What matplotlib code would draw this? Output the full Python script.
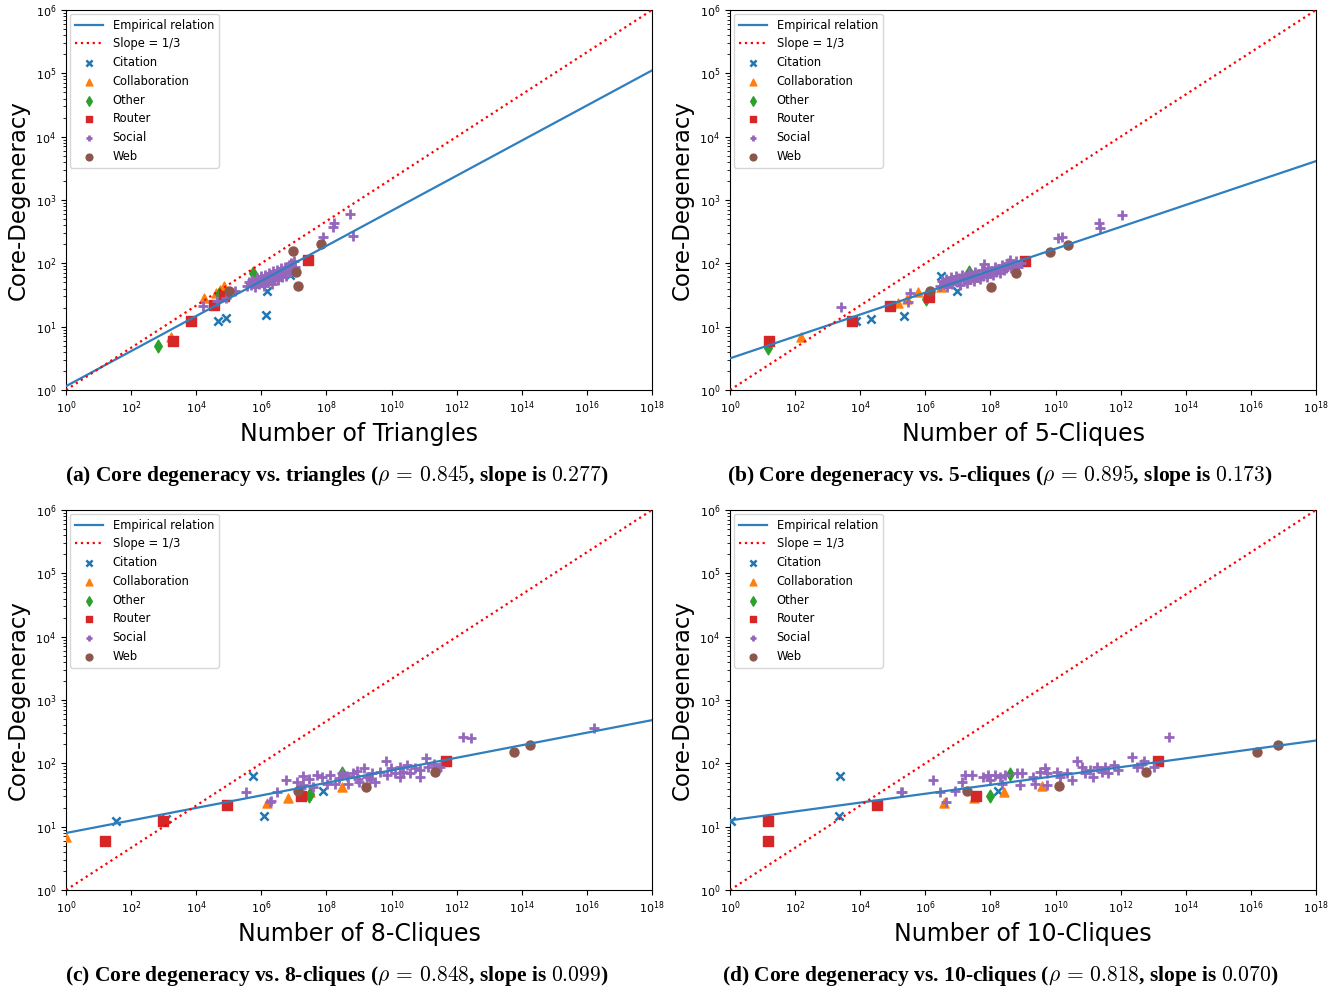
import numpy as np
import matplotlib
matplotlib.use('Agg')
import matplotlib.pyplot as plt

plt.rcParams['mathtext.fontset'] = 'cm'

# all points stored as (log10 count, log10 core-degeneracy)
X_LABELS = ['Number of Triangles', 'Number of 5-Cliques',
            'Number of 8-Cliques', 'Number of 10-Cliques']
CAPTIONS = [
    r'(a) Core degeneracy vs. triangles ($\rho\,=\,0.845$, slope is $0.277$)',
    r'(b) Core degeneracy vs. 5-cliques ($\rho\,=\,0.895$, slope is $0.173$)',
    r'(c) Core degeneracy vs. 8-cliques ($\rho\,=\,0.848$, slope is $0.099$)',
    r'(d) Core degeneracy vs. 10-cliques ($\rho\,=\,0.818$, slope is $0.070$)',
]
SLOPES = [0.277, 0.173, 0.099, 0.070]
INTERCEPTS = [0.06, 0.50, 0.90, 1.10]

# --- (a) triangles
TRI_CITATION = [(4.66, 1.09), (4.92, 1.13), (6.13, 1.18), (6.17, 1.57), (6.88, 1.82)]
TRI_COLLAB = [(3.23, 0.84), (4.25, 1.45), (4.62, 1.53), (4.72, 1.58), (4.86, 1.64)]
TRI_OTHER = [(2.82, 0.70), (4.71, 1.52), (5.75, 1.84)]
TRI_ROUTER = [(3.30, 0.77), (3.84, 1.09), (4.56, 1.35), (4.86, 1.48), (7.44, 2.05)]
TRI_WEB = [(5.02, 1.57), (6.96, 2.19), (7.07, 1.87), (7.14, 1.64), (7.82, 2.31)]
TRI_SOCIAL = [
    (4.22, 1.32), (4.63, 1.41), (4.90, 1.45), (5.05, 1.55), (5.20, 1.56),
    (5.55, 1.64), (5.62, 1.70), (5.68, 1.66), (5.72, 1.74), (5.78, 1.69),
    (5.80, 1.62), (5.85, 1.72), (5.88, 1.77), (5.92, 1.67), (5.95, 1.73),
    (6.00, 1.80), (6.02, 1.70), (6.05, 1.76), (6.08, 1.64), (6.10, 1.82),
    (6.14, 1.74), (6.18, 1.79), (6.20, 1.70), (6.24, 1.85), (6.26, 1.77),
    (6.30, 1.81), (6.33, 1.68), (6.35, 1.88), (6.38, 1.76), (6.42, 1.83),
    (6.45, 1.79), (6.48, 1.90), (6.50, 1.73), (6.53, 1.86), (6.57, 1.81),
    (6.60, 1.93), (6.62, 1.78), (6.66, 1.88), (6.70, 1.84), (6.73, 1.95),
    (6.76, 1.80), (6.80, 1.90), (6.84, 1.97), (6.88, 1.86), (6.92, 2.00),
    (6.95, 1.92), (7.00, 2.03), (7.03, 1.95),
    (7.90, 2.41), (8.21, 2.57), (8.23, 2.64), (8.72, 2.78), (8.81, 2.43),
]

# --- (b) 5-cliques
K5_CITATION = [(3.88, 1.09), (4.33, 1.12), (5.34, 1.17), (6.47, 1.80), (6.98, 1.56)]
K5_COLLAB = [(2.18, 0.84), (5.15, 1.37), (5.45, 1.44), (5.77, 1.54), (6.47, 1.62)]
K5_OTHER = [(1.16, 0.67), (6.01, 1.44), (7.33, 1.86)]
K5_ROUTER = [(1.19, 0.77), (3.76, 1.09), (4.92, 1.33), (6.10, 1.47), (9.07, 2.03)]
K5_WEB = [(6.13, 1.56), (8.03, 1.63), (8.79, 1.85), (9.83, 2.18), (10.37, 2.29)]
K5_SOCIAL = [
    (3.42, 1.31), (5.47, 1.39), (5.53, 1.53),
    (6.45, 1.65), (6.52, 1.72), (6.58, 1.68), (6.62, 1.76), (6.68, 1.63),
    (6.72, 1.71), (6.78, 1.78), (6.82, 1.67), (6.88, 1.74), (6.93, 1.80),
    (6.98, 1.70), (7.03, 1.77), (7.08, 1.66), (7.12, 1.82), (7.18, 1.73),
    (7.22, 1.79), (7.28, 1.69), (7.33, 1.85), (7.38, 1.76), (7.43, 1.81),
    (7.48, 1.72), (7.53, 1.87), (7.58, 1.78), (7.63, 1.83), (7.68, 1.75),
    (7.73, 1.89), (7.78, 1.80), (7.80, 1.99), (7.83, 1.86), (7.88, 1.78),
    (7.93, 1.92), (7.98, 1.84), (8.03, 1.88), (8.08, 1.81), (8.13, 1.95),
    (8.18, 1.87), (8.23, 1.91), (8.30, 1.85), (8.36, 1.97), (8.42, 1.89),
    (8.48, 1.93), (8.55, 2.00), (8.60, 2.06), (8.62, 1.92), (8.70, 1.97),
    (8.78, 2.03), (8.86, 1.95), (8.95, 2.01),
    (10.07, 2.40), (10.20, 2.41), (11.32, 2.63), (11.38, 2.56), (12.04, 2.76),
]

# --- (c) 8-cliques
K8_CITATION = [(1.54, 1.09), (3.06, 1.12), (5.75, 1.80), (6.07, 1.17), (7.88, 1.56)]
K8_COLLAB = [(0.0, 0.84), (6.17, 1.37), (6.81, 1.45), (7.51, 1.54), (8.49, 1.63)]
K8_OTHER = [(7.46, 1.48), (7.50, 1.52), (8.47, 1.84)]
K8_ROUTER = [(1.21, 0.77), (2.98, 1.09), (4.94, 1.34), (7.21, 1.48), (11.68, 2.04)]
K8_WEB = [(7.12, 1.57), (9.21, 1.63), (11.33, 1.86), (13.77, 2.18), (14.26, 2.29)]
K8_SOCIAL = [
    (5.53, 1.54), (6.26, 1.39), (6.29, 1.41), (6.49, 1.55), (6.76, 1.73),
    (7.09, 1.71), (7.21, 1.61), (7.27, 1.80), (7.29, 1.66), (7.47, 1.75),
    (7.60, 1.63), (7.70, 1.82), (7.86, 1.78), (8.01, 1.68), (8.11, 1.82),
    (8.26, 1.67), (8.40, 1.77), (8.47, 1.84), (8.62, 1.80), (8.67, 1.68),
    (8.83, 1.84), (8.93, 1.88), (8.98, 1.75), (9.00, 1.70), (9.16, 1.92),
    (9.24, 1.78), (9.35, 1.76), (9.39, 1.84), (9.49, 1.71), (9.65, 1.87),
    (9.82, 2.03), (9.85, 1.82), (9.97, 1.92), (10.11, 1.84), (10.26, 1.95),
    (10.26, 1.79), (10.34, 1.87), (10.47, 1.97), (10.57, 1.84), (10.72, 1.92),
    (10.88, 1.89), (10.88, 1.79), (11.06, 2.08), (11.13, 1.95), (11.29, 1.99),
    (11.40, 1.90), (11.49, 1.94),
    (12.18, 2.41), (12.45, 2.40), (16.22, 2.56),
]

# --- (d) 10-cliques
K10_CITATION = [(0.02, 1.09), (1.18, 1.09), (3.35, 1.17), (3.38, 1.80), (8.24, 1.57)]
K10_COLLAB = [(6.56, 1.38), (7.48, 1.45), (8.42, 1.55), (9.58, 1.64)]
K10_OTHER = [(8.00, 1.49), (8.61, 1.83)]
K10_ROUTER = [(1.18, 1.09), (1.18, 0.77), (4.50, 1.34), (7.55, 1.48), (13.16, 2.04)]
K10_WEB = [(7.27, 1.57), (10.11, 1.64), (12.78, 1.86), (16.18, 2.18), (16.82, 2.29)]
K10_SOCIAL = [
    (5.24, 1.54), (5.27, 1.55), (6.25, 1.73), (6.45, 1.55), (6.63, 1.39),
    (6.91, 1.57), (7.12, 1.71), (7.22, 1.82), (7.43, 1.82), (7.76, 1.79),
    (7.94, 1.82), (7.99, 1.73), (8.14, 1.82), (8.29, 1.78), (8.35, 1.68),
    (8.46, 1.82), (8.81, 1.84), (8.91, 1.66), (8.96, 1.84), (9.32, 1.78),
    (9.37, 1.67), (9.52, 1.87), (9.68, 1.92), (9.73, 1.84), (9.73, 1.66),
    (10.04, 1.87), (10.14, 1.79), (10.34, 1.84), (10.50, 1.74), (10.67, 2.03),
    (10.80, 1.95), (10.91, 1.84), (11.06, 1.89), (11.16, 1.79), (11.26, 1.95),
    (11.42, 1.87), (11.52, 1.95), (11.62, 1.84), (11.78, 1.97), (11.93, 1.89),
    (12.34, 2.10), (12.49, 1.95), (12.65, 1.99), (12.72, 2.03), (13.01, 1.94),
    (13.49, 2.42),
]

PANELS = [
    [TRI_CITATION, TRI_COLLAB, TRI_OTHER, TRI_ROUTER, TRI_SOCIAL, TRI_WEB],
    [K5_CITATION, K5_COLLAB, K5_OTHER, K5_ROUTER, K5_SOCIAL, K5_WEB],
    [K8_CITATION, K8_COLLAB, K8_OTHER, K8_ROUTER, K8_SOCIAL, K8_WEB],
    [K10_CITATION, K10_COLLAB, K10_OTHER, K10_ROUTER, K10_SOCIAL, K10_WEB],
]
CATEGORIES = ['Citation', 'Collaboration', 'Other', 'Router', 'Social', 'Web']
MARKERS = ['x', '^', 'd', 's', 'P', 'o']
COLORS = ['tab:blue', 'tab:orange', 'tab:green', 'tab:red', 'tab:purple', 'tab:brown']

W, H = 1343, 991
# axes boxes in pixels: left, top, right, bottom
BOXES = [(66, 10, 652, 390), (730, 10, 1316, 390),
         (66, 510, 652, 890), (730, 510, 1316, 890)]
CAPTION_POS = [(337, 476), (1000, 476), (337, 976), (1000, 976)]

fig = plt.figure(figsize=(W / 100, H / 100), dpi=100)

for i in range(4):
    l, t, r, b = BOXES[i]
    ax = fig.add_axes([l / W, 1 - b / H, (r - l) / W, (b - t) / H])

    xs = np.array([1.0, 1e18])
    ax.plot(xs, 10 ** (INTERCEPTS[i] + SLOPES[i] * np.log10(xs)),
            color='#2f7fbf', lw=1.6, label='Empirical relation', zorder=4)
    ax.plot(xs, xs ** (1 / 3), color='red', ls=':', lw=1.6,
            label='Slope = 1/3', zorder=4)

    for pts, name, mk, col in zip(PANELS[i], CATEGORIES, MARKERS, COLORS):
        arr = 10 ** np.array(pts)
        if mk == 'P':
            ax.scatter(arr[:, 0], arr[:, 1], marker='+', s=45, linewidths=2,
                       color=col, label=name, zorder=3)
        elif mk == 'x':
            ax.scatter(arr[:, 0], arr[:, 1], marker='x', s=35, linewidths=1.8,
                       color=col, label=name, zorder=3)
        else:
            ax.scatter(arr[:, 0], arr[:, 1], marker=mk, s=42,
                       color=col, label=name, zorder=3)

    ax.set_xscale('log')
    ax.set_yscale('log')
    ax.set_xlim(1, 1e18)
    ax.set_ylim(1, 1e6)
    ax.set_xticks(10.0 ** np.arange(0, 19, 2))
    ax.xaxis.set_minor_locator(matplotlib.ticker.NullLocator())
    ax.set_yticks(10.0 ** np.arange(0, 7))
    ax.tick_params(labelsize=8)
    ax.set_xlabel(X_LABELS[i], fontsize=17)
    ax.set_ylabel('Core-Degeneracy', fontsize=16.5)

    ax.legend(loc='upper left', fontsize=8.3, handlelength=2.5,
              labelspacing=0.5, scatterpoints=1, markerscale=0.75,
              borderaxespad=0.35)

    cx, cy = CAPTION_POS[i]
    fig.text(cx / W, 1 - cy / H, CAPTIONS[i], ha='center', va='center',
             fontsize=15.5, fontweight='bold', family='Liberation Serif')

fig.savefig('out.png', dpi=100)
